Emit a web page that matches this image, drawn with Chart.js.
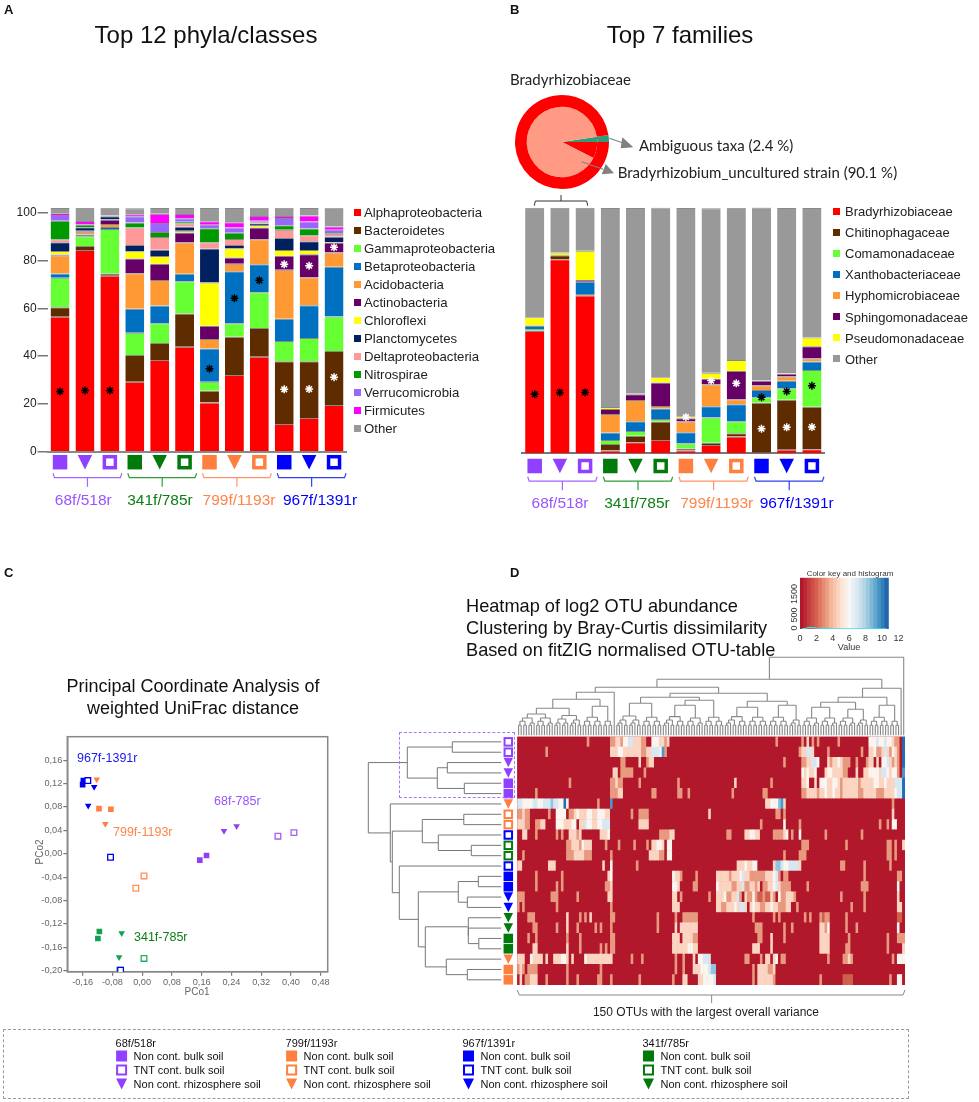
<!DOCTYPE html>
<html>
<head>
<meta charset="utf-8">
<title>Primer comparison</title>
<script src="https://cdn.jsdelivr.net/npm/chart.js@4"></script>
<style>
  body { margin: 0; background: #fff; }
  #page { position: relative; width: 979px; height: 1102px; overflow: hidden; font-family: "Liberation Sans", Arial, sans-serif; color: #111; }
  #page canvas { position: absolute; }
  .txt { position: absolute; white-space: pre; line-height: 1; }
</style>
</head>
<body>
<div id="page"></div>
<script>
// panel A: share of reads per primer pair/soil, %
const phyla = ['Alphaproteobacteria', 'Bacteroidetes', 'Gammaproteobacteria', 'Betaproteobacteria', 'Acidobacteria', 'Actinobacteria', 'Chloroflexi', 'Planctomycetes', 'Deltaproteobacteria', 'Nitrospirae', 'Verrucomicrobia', 'Firmicutes', 'Other'];
const phylaColors = ['#ff0000', '#5f2c00', '#66ff33', '#0070c0', '#ff9933', '#660066', '#ffff00', '#002060', '#ff9999', '#009900', '#9966ff', '#ff00ff', '#999999'];
const alpha = [56.5, 84.4, 73.6, 29.3, 38.4, 43.9, 20.6, 32.1, 39.7, 11.6, 14.1, 19.5];
const bacteroidetes = [3.9, 1.7, 1.0, 11.2, 7.1, 13.9, 4.9, 16.0, 12.1, 26.2, 23.7, 22.6];
const gamma = [12.4, 4.0, 18.6, 9.3, 8.2, 13.5, 3.8, 5.6, 14.9, 8.5, 9.8, 14.5];
const beta = [1.8, 0.8, 0.8, 10.0, 7.5, 3.2, 13.9, 21.8, 11.7, 9.3, 13.7, 20.8];
const acido = [7.5, 1.1, 1.3, 14.9, 10.6, 13.0, 3.9, 3.1, 10.5, 20.5, 11.7, 5.9];
const actino = [0.4, 0.3, 1.7, 6.1, 6.8, 4.2, 5.6, 2.6, 4.9, 5.9, 9.6, 4.2];
const chloroflexi = [1.5, 0.1, 0.1, 3.1, 3.3, 0.7, 18.1, 3.9, 1.0, 2.4, 1.8, 0.2];
const plancto = [3.6, 1.5, 1.4, 2.6, 2.6, 1.7, 14.2, 1.4, 0.7, 5.0, 3.6, 2.2];
const delta = [1.3, 0.1, 0.1, 7.3, 5.3, 1.4, 2.6, 2.5, 0.4, 3.5, 2.6, 1.3];
const nitro = [7.7, 0.9, 0.1, 2.1, 2.1, 0.7, 5.9, 2.6, 0.3, 1.8, 2.8, 0.3];
const verruco = [2.4, 0.4, 0.1, 2.6, 3.8, 1.5, 1.4, 2.2, 0.4, 3.1, 2.9, 1.4];
const firmicutes = [0.8, 1.2, 0.2, 0.8, 3.9, 1.7, 1.5, 2.2, 2.0, 0.8, 2.5, 1.3];
const otherA = [2.2, 5.9, 3.1, 2.6, 2.4, 2.6, 5.6, 6.0, 3.5, 3.5, 3.2, 8.1];
const starsABlack = [25.2, 25.6, 25.6, null, null, null, 34.7, 64.2, 71.7, null, null, null];
const starsAWhiteLow = [null, null, null, null, null, null, null, null, null, 26.1, 26.2, 31.2];
const starsAWhiteHigh = [null, null, null, null, null, null, null, null, null, 78.4, 77.8, 85.5];
const yTicksA = [0, 20, 40, 60, 80, 100];

// panel B
const families = ['Bradyrhizobiaceae', 'Chitinophagaceae', 'Comamonadaceae', 'Xanthobacteriaceae', 'Hyphomicrobiaceae', 'Sphingomonadaceae', 'Pseudomonadaceae', 'Other'];
const familyColors = ['#ff0000', '#5f2c00', '#66ff33', '#0070c0', '#ff9933', '#660066', '#ffff00', '#999999'];
const brady = [49.8, 79.0, 64.2, 1.1, 4.5, 5.4, 1.1, 3.4, 6.8, 0.4, 1.4, 1.6];
const chitino = [0.2, 1.6, 0.7, 2.7, 2.6, 7.5, 0.9, 0.9, 1.4, 20.2, 20.4, 17.4];
const comamonad = [0.6, 0, 0, 1.6, 2.0, 1.1, 2.0, 10.3, 4.9, 2.2, 4.7, 14.9];
const xantho = [1.3, 0, 5.0, 3.1, 3.9, 4.2, 4.6, 4.6, 6.9, 3.0, 3.0, 3.5];
const hypho = [0.2, 0, 0, 7.5, 8.7, 1.1, 4.3, 8.8, 2.0, 1.8, 1.8, 1.2];
const sphingo = [0.1, 0.1, 0.7, 2.0, 2.3, 9.5, 1.4, 2.4, 11.5, 1.9, 1.1, 5.0];
const pseudo = [3.2, 1.1, 11.9, 0.9, 0.3, 2.2, 0.8, 2.4, 4.5, 0.1, 0.1, 3.5];
const otherB = [44.6, 18.2, 17.5, 81.0, 75.6, 69.1, 84.8, 67.0, 62.0, 70.6, 67.4, 52.8];
const starsBBlack = [24.0, 24.8, 24.8, null, null, null, null, null, null, 22.8, 25.2, 27.5];
const starsBWhite = [null, null, null, null, null, null, 14.7, 29.6, 28.5, 10.0, 10.6, 10.7];

// pie above panel B
const pieOuter = [2.4, 97.6];
const pieInner = [2.4, 7.5, 90.1];

// primer groups, shared by the bars, the heatmap rows and the legend
const groupNames = ['68f/518r', '341f/785r', '799f/1193r', '967f/1391r'];
const groupColors = ['#9040ff', '#007a0a', '#ff7f3f', '#0000ff'];
const groupTextColors = ['#9955ff', '#0c7f14', '#ff8548', '#0000ff'];
const bracketColors = ['#a466ff', '#2e9e3c', '#ff9566', '#3040f0'];
const barShapes = ['square', 'triangle', 'hollow'];
const barLabels = ['P1', 'P2', 'P3', 'G1', 'G2', 'G3', 'O1', 'O2', 'O3', 'B1', 'B2', 'B3'];

// panel C: PCo1, PCo2
const purpleBulk = [[0.173, -0.003], [0.155, -0.011]];
const purpleRhizo = [[0.22, 0.039], [0.254, 0.047]];
const purpleTnt = [[0.365, 0.030], [0.408, 0.036]];
const blueBulk = [[-0.158, 0.125], [-0.16, 0.118]];
const blueRhizo = [[-0.129, 0.114], [-0.145, 0.082]];
const blueTnt = [[-0.146, 0.125], [-0.085, -0.006], [-0.058, -0.199]];
const orangeBulk = [[-0.116, 0.077], [-0.084, 0.076]];
const orangeRhizo = [[-0.122, 0.127], [-0.099, 0.051]];
const orangeTnt = [[0.005, -0.038], [-0.017, -0.059]];
const greenBulk = [[-0.115, -0.133], [-0.119, -0.145]];
const greenRhizo = [[-0.055, -0.136], [-0.062, -0.177]];
const greenTnt = [[0.005, -0.179], [-0.06, -0.199]];
const pcoXTicks = [-0.16, -0.08, 0, 0.08, 0.16, 0.24, 0.32, 0.40, 0.48];
const pcoYTicks = [-0.20, -0.16, -0.12, -0.08, -0.04, 0, 0.04, 0.08, 0.12, 0.16];

// panel D: heatmap rows as [first column, length, colour level]; everything else is level 0
const heatColors = ['#b2182b', '#cf5f4f', '#e89a80', '#fbd5c2', '#fbf5f0', '#d8e8f2', '#90c4e0', '#4a98cc', '#1f6fb5'];
const heatRuns = [
  [[27,1,2],[36,2,2],[38,2,3],[40,1,2],[41,2,4],[43,2,5],[45,3,3],[48,2,2],[52,3,4],[55,2,3],[57,1,2],[58,1,3],[100,1,2],[110,1,2],[112,1,3],[114,1,2],[116,1,2],[124,1,2],[136,3,4],[139,1,5],[140,2,4],[142,1,5],[143,2,4],[145,1,3],[146,2,2],[149,1,8]],
  [[11,1,2],[36,3,3],[39,2,4],[41,2,3],[43,2,3],[45,3,3],[48,2,2],[50,2,3],[52,3,5],[55,1,4],[56,1,7],[57,1,2],[109,1,2],[110,2,3],[112,2,5],[114,1,3],[120,1,2],[133,1,2],[136,2,3],[138,1,4],[139,2,2],[141,1,3],[142,1,5],[143,1,3],[144,1,2],[145,1,4],[146,1,3],[147,1,2],[149,1,8]],
  [[40,2,2],[47,1,3],[50,1,2],[51,2,3],[103,1,2],[110,2,2],[112,2,3],[114,2,5],[116,1,4],[120,1,3],[121,1,2],[122,2,3],[124,1,4],[125,1,3],[126,2,2],[128,1,2],[131,1,2],[135,1,2],[136,2,3],[139,1,3],[141,2,4],[143,1,5],[144,1,3],[145,1,2],[146,1,3],[147,1,2],[149,1,8]],
  [[37,2,3],[40,5,2],[49,1,2],[110,1,4],[111,1,3],[112,1,4],[113,2,3],[115,1,4],[119,1,3],[120,2,4],[122,2,3],[124,2,3],[126,1,2],[127,1,2],[131,1,3],[134,2,3],[136,4,4],[140,1,3],[141,2,5],[143,1,4],[144,1,3],[145,2,4],[147,1,2],[149,1,7]],
  [[20,1,2],[36,2,2],[38,1,3],[39,2,2],[47,1,2],[62,1,2],[84,1,3],[98,1,2],[110,2,3],[112,1,4],[115,1,3],[117,2,4],[119,1,4],[120,2,3],[122,2,4],[124,1,3],[125,1,2],[126,2,3],[128,2,3],[130,2,3],[132,1,2],[133,1,3],[134,2,3],[136,2,3],[138,2,4],[140,2,3],[142,1,4],[143,2,3],[145,1,3],[146,1,5],[147,2,5],[149,1,8]],
  [[7,1,2],[36,3,2],[39,2,3],[52,2,2],[62,2,2],[66,1,2],[83,1,2],[95,2,2],[110,2,2],[112,4,3],[116,1,2],[117,2,3],[119,1,4],[120,2,3],[122,1,4],[123,2,3],[125,1,2],[126,6,3],[132,2,2],[134,5,3],[139,3,2],[142,4,3],[146,1,4],[147,2,5],[149,1,8]],
  [[0,2,5],[2,4,4],[6,2,5],[8,2,4],[10,1,5],[11,2,5],[13,1,6],[14,2,5],[16,2,4],[18,1,8],[19,1,4],[31,1,2],[36,1,7],[96,2,3],[98,3,4],[101,1,6],[102,1,7],[103,1,3],[145,1,2]],
  [[0,2,2],[2,1,3],[3,2,2],[12,1,2],[15,4,4],[20,2,2],[22,1,3],[23,1,4],[24,2,3],[26,1,3],[27,2,4],[29,2,3],[31,2,4],[33,1,4],[34,2,3],[44,1,2],[47,4,2],[74,1,3],[100,2,2],[103,1,2],[145,1,3]],
  [[0,3,3],[3,2,2],[7,2,2],[9,2,3],[15,3,4],[18,3,3],[21,2,4],[24,2,3],[26,1,5],[27,2,4],[29,2,3],[31,2,4],[33,3,5],[47,4,3],[94,1,2],[103,1,4],[109,1,2],[140,1,2],[143,1,2],[145,2,4]],
  [[2,2,3],[7,1,2],[15,1,2],[17,1,2],[20,3,3],[23,1,2],[24,1,3],[32,3,3],[35,1,4],[55,4,2],[59,2,3],[81,2,2],[88,2,3],[90,2,4],[92,2,3],[99,4,2],[103,1,3],[104,1,4],[106,1,2],[109,1,4],[119,1,2],[133,1,2]],
  [[19,2,2],[21,1,3],[22,2,3],[24,1,2],[25,1,4],[26,3,3],[34,1,2],[39,1,2],[45,1,2],[50,1,2],[52,2,3],[54,2,4],[56,1,3],[58,2,4],[110,3,2],[127,1,2],[143,2,2],[146,1,2],[149,1,3]],
  [[2,1,2],[19,3,2],[22,4,3],[26,3,2],[36,1,2],[51,4,3],[55,2,2],[58,2,4],[103,1,2],[109,3,2],[143,2,2],[146,1,2]],
  [[0,2,3],[12,3,3],[33,1,3],[36,1,4],[46,1,2],[85,3,3],[88,1,4],[89,2,3],[91,2,4],[99,1,3],[100,2,6],[102,1,5],[103,2,4],[105,2,5],[107,2,5],[109,1,3],[125,2,2],[134,1,2],[144,1,2]],
  [[7,1,2],[17,1,2],[35,1,3],[36,1,4],[60,1,4],[61,2,3],[63,1,2],[69,1,2],[77,5,3],[82,1,2],[83,3,3],[86,1,4],[87,1,5],[88,2,3],[90,6,2],[96,3,3],[99,1,4],[100,1,5],[101,1,2],[103,2,2],[134,1,2],[147,2,2]],
  [[7,1,2],[15,1,2],[17,1,2],[34,2,2],[36,1,3],[60,2,4],[62,1,3],[68,2,2],[77,1,4],[78,5,3],[83,2,2],[85,2,3],[87,1,5],[88,2,2],[90,2,3],[92,1,2],[93,1,3],[95,2,2],[97,2,3],[99,1,4],[100,1,5],[101,1,3],[102,4,2],[112,1,2],[133,3,2],[147,1,4]],
  [[0,3,2],[13,3,2],[23,1,2],[35,2,3],[60,2,3],[63,1,2],[74,1,2],[77,3,3],[80,1,4],[81,2,2],[83,2,3],[85,1,5],[86,1,2],[88,1,3],[89,2,2],[91,1,4],[92,1,2],[93,2,1],[95,1,2],[96,2,1],[98,1,3],[99,1,2],[101,1,4],[102,2,2],[104,3,3],[107,1,2],[125,1,2],[134,1,2],[147,1,3]],
  [[0,1,2],[2,1,2],[15,1,2],[36,1,2],[60,3,3],[77,2,3],[79,2,2],[81,3,3],[84,1,4],[85,1,3],[86,2,5],[88,1,3],[90,1,3],[91,1,4],[92,2,3],[94,2,2],[96,2,3],[98,1,4],[99,2,3],[101,3,2],[104,2,3],[108,1,2],[129,1,2],[134,1,2],[147,2,3]],
  [[4,3,2],[19,1,3],[24,1,2],[26,1,2],[28,1,3],[36,2,2],[54,1,2],[61,1,2],[64,6,2],[91,1,2],[99,1,2],[101,1,2],[111,1,2],[113,1,2],[117,1,2],[118,1,1],[119,2,2],[127,1,2],[147,2,1]],
  [[6,2,2],[15,1,2],[19,1,3],[23,1,2],[30,1,2],[32,1,2],[36,1,2],[54,1,2],[61,1,3],[63,7,3],[92,3,2],[103,1,2],[106,1,2],[117,2,3],[119,1,2],[120,1,4],[127,1,2],[131,1,2],[147,1,4]],
  [[4,1,2],[7,1,2],[19,1,2],[24,1,2],[36,2,2],[60,3,3],[64,4,3],[68,2,2],[93,2,2],[98,1,3],[103,1,2],[117,4,3],[128,1,2],[143,1,2],[147,3,2]],
  [[6,2,3],[19,1,3],[24,1,2],[32,1,2],[34,1,2],[36,2,2],[60,6,3],[66,2,4],[68,2,3],[91,3,3],[98,1,3],[117,4,3],[127,2,2],[143,1,2],[149,1,3]],
  [[0,3,3],[5,1,4],[6,4,3],[11,1,3],[14,3,3],[17,2,4],[19,1,3],[21,1,3],[26,1,4],[27,10,3],[44,1,2],[48,1,2],[61,1,2],[64,1,2],[68,1,3],[70,2,4],[72,1,5],[73,2,5],[88,2,2],[94,1,2],[96,2,3],[99,1,3],[100,1,4],[102,2,2],[120,1,2],[126,2,2],[128,1,3],[129,1,2],[145,1,2],[147,3,4]],
  [[0,1,2],[1,1,3],[2,1,2],[4,4,2],[19,1,2],[32,1,2],[61,1,2],[64,1,2],[68,3,3],[71,1,4],[72,2,4],[74,1,5],[75,2,6],[91,1,2],[93,4,3],[97,2,2],[99,1,3]],
  [[1,1,3],[3,2,2],[5,3,3],[11,1,2],[19,1,2],[23,1,2],[31,2,2],[36,1,2],[47,1,2],[60,1,2],[64,2,3],[70,2,3],[72,2,4],[74,2,4],[76,1,5],[91,1,2],[93,6,3],[99,1,2],[117,1,2],[126,4,1],[144,1,2],[147,2,4]]
];
const rowGroups = [0, 0, 0, 0, 0, 0, 2, 2, 2, 3, 1, 1, 3, 3, 3, 3, 3, 1, 1, 1, 1, 2, 2, 2];
const rowShapes = ['hollow', 'hollow', 'triangle', 'triangle', 'square', 'square', 'triangle', 'hollow', 'hollow', 'hollow', 'hollow', 'hollow', 'hollow', 'square', 'square', 'triangle', 'triangle', 'triangle', 'triangle', 'square', 'square', 'triangle', 'square', 'square'];
// dendrograms: [height, child, child]; a plain number is that many leaves side by side
const colTree = [78, [56, [48, [43, [36, [27, 14, 11], [29, 8, 4]], 1], [42, [38, [32, 10, 8], [35, [30, 9, 7], 8]], [34, [28, 9, 8], [30, 8, 5]]]], [47, [38, [33, [28, 7, 7], [26, 7, 5]], [30, 8, 4]], 1]], 1];
const rowTree = [133, [94, [49, 1, 1], [64, [54, 1, 1], [37, 1, 1]]], [111, 1, [109, [79, [37.5, 1, 1], [63, 1, [30, 1, 1]]], [102, 1, [83, [43, [23, 1, 1], [34, 1, 1]], [76, [33, 1, [33, 1, [22.5, 1, 1]]], [55, 1, [34, 1, 1]]]]]]]];

// colour key
const keyColors = ['#b2182b', '#bb2a33', '#c43c3c', '#cd4e46', '#d6604d', '#de7660', '#e58c72', '#ec9f85', '#f4b59c', '#f7c5ad', '#fad5c1', '#fce4d6', '#f9ede6', '#f7f7f7', '#e8f0f4', '#dbe9f1', '#c9e0ec', '#b3d5e6', '#9bc9e0', '#7fb8d7', '#62a7cd', '#4694c3', '#3380b9', '#2166ac'];
const keyBins = [0.225, 0.675, 1.125, 1.575, 2.025, 2.475, 2.925, 3.375, 3.825, 4.275, 4.725, 5.175, 5.625, 6.075, 6.525, 6.975, 7.425, 7.875, 8.325, 8.775, 9.225, 9.675, 10.125, 10.575];
const keyHist = [10, 25, 60, 55, 40, 30, 22, 15, 12, 8, 8, 5, 5, 5, 5, 5, 5, 5, 5, 5, 5, 5, 5, 5];
const keyTicks = [0, 2, 4, 6, 8, 10, 12];

// bottom legend
const legendOrder = [0, 2, 3, 1];
const legendRows = ['Non cont. bulk soil', 'TNT cont. bulk soil', 'Non cont. rhizosphere soil'];

Chart.defaults.animation = false;
Chart.defaults.font.family = '"Liberation Sans", Arial, sans-serif';
Chart.defaults.plugins.legend.display = false;
Chart.defaults.plugins.tooltip.enabled = false;
Chart.defaults.devicePixelRatio = 1;

const page = document.getElementById('page');

function addCanvas(x, y, w, h) {
  const c = document.createElement('canvas');
  c.width = w; c.height = h;
  c.style.left = x + 'px'; c.style.top = y + 'px';
  c.style.width = w + 'px'; c.style.height = h + 'px';
  page.appendChild(c);
  return c;
}

// align: 0 = x is the left edge, .5 = x is the middle
function label(text, x, y, size, color, align, extra) {
  const d = document.createElement('div');
  d.className = 'txt';
  d.textContent = text;
  d.style.left = x + 'px'; d.style.top = y + 'px';
  d.style.fontSize = size + 'px';
  d.style.color = color || '#111';
  d.style.transform = 'translate(' + (-(align || 0) * 100) + '%,-50%)' + (extra || '');
  page.appendChild(d);
  return d;
}

function drawMark(ctx, shape, cx, cy, s, color, lw) {
  ctx.fillStyle = color;
  ctx.strokeStyle = color;
  if (shape === 'square') {
    ctx.fillRect(cx - s / 2, cy - s / 2, s, s);
  } else if (shape === 'hollow') {
    ctx.lineWidth = lw;
    ctx.strokeRect(cx - s / 2 + lw / 2, cy - s / 2 + lw / 2, s - lw, s - lw);
  } else {
    ctx.beginPath();
    ctx.moveTo(cx - s / 2, cy - s / 2);
    ctx.lineTo(cx + s / 2, cy - s / 2);
    ctx.lineTo(cx, cy + s / 2);
    ctx.closePath();
    ctx.fill();
  }
}

// marks and coloured brackets under the stacked bars
function groupAxis(markDy, bracketDy) {
  return {
    id: 'groupAxis',
    afterDraw(chart) {
      const ctx = chart.ctx, x = chart.scales.x, base = chart.chartArea.bottom;
      ctx.save();
      barLabels.forEach((_, i) => {
        const g = Math.floor(i / 3);
        drawMark(ctx, barShapes[i % 3], x.getPixelForValue(i), base + markDy, 14.5, groupColors[g], 3.5);
      });
      groupNames.forEach((_, g) => {
        const a = x.getPixelForValue(g * 3) - 7, b = x.getPixelForValue(g * 3 + 2) + 12;
        const top = base + bracketDy;
        ctx.strokeStyle = bracketColors[g];
        ctx.lineWidth = 1.2;
        ctx.beginPath();
        ctx.moveTo(a, top); ctx.lineTo(a + 1.5, top + 4.5); ctx.lineTo(b - 1.5, top + 4.5); ctx.lineTo(b, top);
        ctx.moveTo((a + b) / 2, top + 4.5); ctx.lineTo((a + b) / 2, top + 13.5);
        ctx.stroke();
      });
      ctx.restore();
    }
  };
}

function starSet(values, color, name) {
  return { type: 'line', stack: name, order: -1, data: values, showLine: false, pointStyle: 'star', pointRadius: 4, pointBorderColor: color, pointBorderWidth: 1.5 };
}

function barSets(series, colors) {
  return series.map((values, i) => ({
    label: i, data: values, backgroundColor: colors[i], borderColor: 'rgba(20,20,20,.5)',
    borderWidth: { top: 1, bottom: 0, left: 0, right: 0 }, barPercentage: 0.76, categoryPercentage: 1
  }));
}

// ---- panel A
new Chart(addCanvas(0, 190, 352, 305), {
  type: 'bar',
  data: {
    labels: barLabels,
    datasets: barSets([alpha, bacteroidetes, gamma, beta, acido, actino, chloroflexi, plancto, delta, nitro, verruco, firmicutes, otherA], phylaColors)
      .concat([starSet(starsABlack, '#000', 'a'), starSet(starsAWhiteLow, '#fff', 'b'), starSet(starsAWhiteHigh, '#fff', 'c')])
  },
  options: {
    responsive: false,
    layout: { padding: { top: 17.9, bottom: 43.3, right: 2.6 } },
    scales: {
      x: { stacked: true, ticks: { display: false }, grid: { display: false }, border: { color: '#888', width: 2 }, afterFit: s => { s.height = 0; } },
      y: {
        stacked: true, min: 0, max: 102,
        afterBuildTicks: s => { s.ticks = yTicksA.map(v => ({ value: v })); },
        afterFit: s => { s.width = 47.6; },
        ticks: { color: '#222', font: { size: 12 }, padding: 1 },
        grid: { drawOnChartArea: false, tickLength: 10, color: '#777', lineWidth: 1.5 },
        border: { display: false }
      }
    }
  },
  plugins: [groupAxis(10.5, 21.5)]
});

// ---- panel B
new Chart(addCanvas(500, 190, 330, 310), {
  type: 'bar',
  data: {
    labels: barLabels,
    datasets: barSets([brady, chitino, comamonad, xantho, hypho, sphingo, pseudo, otherB], familyColors)
      .concat([starSet(starsBBlack, '#000', 'a'), starSet(starsBWhite, '#fff', 'b')])
  },
  options: {
    responsive: false,
    layout: { padding: { top: 17.7, bottom: 46.7, left: 22.1, right: 5 } },
    scales: {
      x: { stacked: true, ticks: { display: false }, grid: { display: false }, border: { color: '#777', width: 2 }, afterFit: s => { s.height = 0; } },
      y: { stacked: true, min: 0, max: 100, display: false }
    }
  },
  plugins: [groupAxis(12.7, 23.4)]
});

// ---- pie
new Chart(addCanvas(512, 92, 100, 100), {
  type: 'pie',
  data: {
    labels: ['Ambiguous taxa', 'Bradyrhizobium_uncultured strain', 'Rest'],
    datasets: [
      { data: pieOuter, backgroundColor: ['#2e9e78', '#ff0000'], borderWidth: 0, weight: 11.7 },
      { data: pieInner, backgroundColor: ['#2e9e78', '#ff0000', '#ff9a85'], borderWidth: 0, weight: 35 }
    ]
  },
  options: { responsive: false, rotation: 81.4, layout: { padding: 3 } }
});

// ---- panel C
function pcoSet(points, color, shape) {
  return {
    data: points.map(p => ({ x: p[0], y: p[1] })),
    pointStyle: shape === 'triangle' ? 'triangle' : 'rect',
    rotation: shape === 'triangle' ? 180 : 0,
    pointRadius: shape === 'triangle' ? 3.8 : 4,
    backgroundColor: shape === 'hollow' ? '#fff' : color,
    borderColor: color,
    borderWidth: shape === 'hollow' ? 1.3 : 0
  };
}
const fmtComma = v => v.toFixed(2).replace('.', ',');
new Chart(addCanvas(0, 725, 340, 275), {
  type: 'scatter',
  data: {
    datasets: [
      pcoSet(blueTnt, '#0000f0', 'hollow'), pcoSet(blueBulk, '#0000f0', 'square'), pcoSet(blueRhizo, '#0000f0', 'triangle'),
      pcoSet(purpleBulk, '#9040f0', 'square'), pcoSet(purpleRhizo, '#9040f0', 'triangle'), pcoSet(purpleTnt, '#a060f5', 'hollow'),
      pcoSet(orangeBulk, '#ff7f3f', 'square'), pcoSet(orangeRhizo, '#ff7f3f', 'triangle'), pcoSet(orangeTnt, '#ff8f55', 'hollow'),
      pcoSet(greenBulk, '#10a050', 'square'), pcoSet(greenRhizo, '#10a050', 'triangle'), pcoSet(greenTnt, '#20b060', 'hollow')
    ]
  },
  options: {
    responsive: false,
    layout: { padding: { top: 11.7, right: 12.3 } },
    scales: {
      x: {
        min: -0.2012, max: 0.4988,
        afterBuildTicks: s => { s.ticks = pcoXTicks.map(v => ({ value: v })); },
        afterFit: s => { s.height = 28.3; },
        ticks: { color: '#666', font: { size: 9.2 }, padding: 1, maxRotation: 0, callback: fmtComma },
        grid: { drawOnChartArea: false, tickLength: 4, color: '#777', lineWidth: 1.2 },
        border: { color: '#888', width: 1.5 }
      },
      y: {
        min: -0.2017, max: 0.2,
        afterBuildTicks: s => { s.ticks = pcoYTicks.map(v => ({ value: v })); },
        afterFit: s => { s.width = 67.3; },
        ticks: { color: '#666', font: { size: 9.2 }, padding: 1, callback: fmtComma },
        grid: { drawOnChartArea: false, tickLength: 4, color: '#777', lineWidth: 1.2 },
        border: { color: '#888', width: 1.5 }
      }
    }
  },
  plugins: [{
    id: 'frame',
    beforeDatasetsDraw(chart) {
      const a = chart.chartArea, ctx = chart.ctx;
      ctx.save();
      ctx.strokeStyle = '#888';
      ctx.lineWidth = 1.5;
      ctx.strokeRect(a.left, a.top, a.right - a.left, a.bottom - a.top);
      ctx.restore();
    }
  }]
});

// ---- panel D: heatmap and both dendrograms
function walkTree(node, nextLeaf, seg) {
  if (typeof node === 'number') {
    if (node === 1) return { pos: nextLeaf(), h: 0 };
    const left = Math.ceil(node / 2);
    const kids = [walkTree(left, nextLeaf, seg), walkTree(node - left, nextLeaf, seg)];
    return joinKids(kids, 6 + 4 * Math.log2(node), seg);
  }
  const kids = node.slice(1).map(k => walkTree(k, nextLeaf, seg));
  return joinKids(kids, node[0], seg);
}
function joinKids(kids, h, seg) {
  kids.forEach(k => seg(k.pos, k.h, k.pos, h));
  const a = kids[0].pos, b = kids[kids.length - 1].pos;
  seg(a, h, b, h);
  return { pos: (a + b) / 2, h: h };
}

function levelsOfRow(runs) {
  const cells = new Array(150).fill(0);
  runs.forEach(r => { for (let c = r[0]; c < r[0] + r[1]; c++) cells[c] = r[2]; });
  return cells;
}
const otuLabels = [];
for (let c = 0; c < 150; c++) otuLabels.push('OTU' + (c + 1));

new Chart(addCanvas(360, 650, 550, 355), {
  type: 'bar',
  data: {
    labels: otuLabels,
    datasets: heatRuns.slice().reverse().map(runs => ({
      data: otuLabels.map(() => 1),
      backgroundColor: levelsOfRow(runs).map(l => heatColors[l]),
      borderWidth: 0, barPercentage: 1, categoryPercentage: 1
    }))
  },
  options: {
    responsive: false,
    layout: { padding: { left: 157.3, right: 5, top: 86.7, bottom: 20 } },
    scales: {
      x: { stacked: true, display: false },
      y: { stacked: true, min: 0, max: 24, display: false }
    }
  },
  plugins: [{
    id: 'dendro',
    beforeDatasetsDraw(chart) {
      const a = chart.chartArea, ctx = chart.ctx;
      ctx.fillStyle = heatColors[0];
      ctx.fillRect(a.left, a.top, a.right - a.left, a.bottom - a.top);
    },
    afterDraw(chart) {
      const a = chart.chartArea, ctx = chart.ctx, xs = chart.scales.x, ys = chart.scales.y;
      ctx.save();
      // column tree
      let col = 0;
      ctx.strokeStyle = '#888';
      ctx.lineWidth = 1.1;
      ctx.beginPath();
      walkTree(colTree, () => col++, (p1, h1, p2, h2) => {
        ctx.moveTo(xs.getPixelForValue(p1), a.top - 1.4 - h1);
        ctx.lineTo(xs.getPixelForValue(p2), a.top - 1.4 - h2);
      });
      ctx.stroke();
      // row tree
      const rowEdge = a.left - 16;
      const rowY = r => ys.getPixelForValue(24 - r - 0.5);
      let row = 0;
      ctx.strokeStyle = '#777';
      ctx.lineWidth = 1;
      ctx.beginPath();
      walkTree(rowTree, () => row++, (p1, h1, p2, h2) => {
        ctx.moveTo(rowEdge - h1, rowY(p1));
        ctx.lineTo(rowEdge - h2, rowY(p2));
      });
      ctx.stroke();
      // row marks
      rowGroups.forEach((g, r) => {
        drawMark(ctx, rowShapes[r], a.left - 9, rowY(r), 9.5, groupColors[g], 2);
      });
      // bracket under the heatmap
      const mid = (a.left + a.right) / 2 + 0.5;
      ctx.strokeStyle = '#888';
      ctx.lineWidth = 1;
      ctx.beginPath();
      ctx.moveTo(a.left, a.bottom + 5); ctx.lineTo(a.left + 2, a.bottom + 10); ctx.lineTo(a.right - 2, a.bottom + 10); ctx.lineTo(a.right, a.bottom + 5);
      ctx.moveTo(mid, a.bottom + 10); ctx.lineTo(mid, a.bottom + 18);
      ctx.stroke();
      ctx.restore();
    }
  }]
});

// ---- colour key
new Chart(addCanvas(785, 572, 120, 70), {
  type: 'bar',
  data: {
    labels: keyBins,
    datasets: [
      { type: 'line', order: -1, data: keyBins.map((b, i) => ({ x: b, y: keyHist[i] })), borderColor: '#40e0e8', borderWidth: 1.2, pointRadius: 0 },
      { data: keyBins.map(b => ({ x: b, y: 2000 })), backgroundColor: keyColors, borderWidth: 0, barPercentage: 1, categoryPercentage: 1 }
    ]
  },
  options: {
    responsive: false,
    layout: { padding: { left: 15, right: 6.7, top: 5.7, bottom: 13 } },
    scales: {
      x: {
        type: 'linear', min: 0, max: 12, offset: false,
        afterBuildTicks: s => { s.ticks = keyTicks.map(v => ({ value: v })); },
        afterFit: s => { s.height = 0; },
        ticks: { display: false }, grid: { display: false }, border: { display: false }
      },
      y: { min: 0, max: 2000, display: false }
    }
  }
});
keyTicks.forEach(v => label(String(v), 800 + v * 8.2, 637.7, 9, '#333', 0.5));
label('Value', 849, 646.7, 9, '#333', 0.5);
label('Color key and histogram', 850, 574, 8, '#333', 0.5);
[['0', 627.7], ['500', 615], ['1500', 594.3]].forEach(t => label(t[0], 794, t[1], 9, '#333', 0.5, ' rotate(-90deg)'));

// ---- overlay: arrows, small bracket, legend marks
const over = addCanvas(0, 0, 979, 1102);
const oc = over.getContext('2d');
oc.strokeStyle = '#808080'; oc.fillStyle = '#808080'; oc.lineWidth = 1.2;
oc.beginPath();
oc.moveTo(609.3, 138.3); oc.lineTo(623, 143);
oc.moveTo(581.7, 161.7); oc.lineTo(603, 169.3);
oc.stroke();
[[[633.3, 147.3], [620.7, 148.3], [622.3, 137.3]], [[605.7, 164], [614, 173.3], [601.7, 174.3]]].forEach(t => {
  oc.beginPath(); oc.moveTo(t[0][0], t[0][1]); oc.lineTo(t[1][0], t[1][1]); oc.lineTo(t[2][0], t[2][1]); oc.closePath(); oc.fill();
});
oc.strokeStyle = '#333'; oc.lineWidth = 1;
oc.beginPath();
oc.moveTo(534.3, 205.7); oc.lineTo(535.3, 201); oc.lineTo(586.7, 201); oc.lineTo(587.7, 205.7);
oc.moveTo(561, 201); oc.lineTo(561, 195);
oc.stroke();
const legendX = [115.6, 285.6, 462.5, 642.5];
legendOrder.forEach((g, i) => {
  const x = legendX[i];
  label(groupNames[g], x, 1043, 11, '#111');
  legendRows.forEach((name, r) => {
    const y = 1056 + r * 14;
    drawMark(oc, ['square', 'hollow', 'triangle'][r], x + 6, y, 11, groupColors[g], 2);
    label(name, x + 18, y, 11, '#111');
  });
});

// ---- text
label('A', 4, 9, 13, '#111').style.fontWeight = 'bold';
label('B', 510, 9, 13, '#111').style.fontWeight = 'bold';
label('C', 4, 572, 13, '#111').style.fontWeight = 'bold';
label('D', 510, 572, 13, '#111').style.fontWeight = 'bold';
label('Top 12 phyla/classes', 206, 35, 24, '#111', 0.5);
label('Top 7 families', 680, 35, 24, '#111', 0.5);

phyla.forEach((name, i) => {
  const y = 212.7 + i * 18;
  const box = document.createElement('div');
  box.style.cssText = 'position:absolute;left:354px;top:' + (y - 3.5) + 'px;width:7px;height:7px;background:' + phylaColors[i];
  page.appendChild(box);
  label(name, 364, y, 13.2, '#222');
});
families.forEach((name, i) => {
  const y = 211 + i * 21.1;
  const box = document.createElement('div');
  box.style.cssText = 'position:absolute;left:833px;top:' + (y - 3.5) + 'px;width:7px;height:7px;background:' + familyColors[i];
  page.appendChild(box);
  label(name, 845, y, 13, '#222');
});

[83.3, 160, 239, 320].forEach((x, g) => label(groupNames[g], x, 500, 15.5, groupTextColors[g], 0.5));
[560, 637, 716.7, 796.7].forEach((x, g) => label(groupNames[g], x, 503.3, 15.5, groupTextColors[g], 0.5));

const lato = 'Lato, sans-serif';
label('Bradyrhizobiaceae', 510, 79, 15, '#222').style.fontFamily = lato;
label('Ambiguous taxa (2.4 %)', 639, 145, 15, '#222').style.fontFamily = lato;
label('Bradyrhizobium_uncultured strain (90.1 %)', 617.7, 171.7, 15, '#222').style.fontFamily = lato;

label('Principal Coordinate Analysis of', 193, 686, 18, '#111', 0.5);
label('weighted UniFrac distance', 193, 708, 18, '#111', 0.5);
label('967f-1391r', 77, 758, 12.5, '#1a1af0');
label('68f-785r', 214, 801, 12.5, '#9955ff');
label('799f-1193r', 113, 832, 12.5, '#ff8548');
label('341f-785r', 134, 937, 12.5, '#0c7f14');
label('PCo1', 197, 992, 10, '#666', 0.5);
label('PCo2', 40, 852, 10, '#666', 0.5, ' rotate(-90deg)');

label('Heatmap of log2 OTU abundance', 466, 606, 18.2, '#111');
label('Clustering by Bray-Curtis dissimilarity', 466, 628, 18.2, '#111');
label('Based on fitZIG normalised OTU-table', 466, 650, 18.2, '#111');
label('150 OTUs with the largest overall variance', 706, 1012, 12, '#222', 0.5);

// dashed boxes
const dash = document.createElement('div');
dash.style.cssText = 'position:absolute;left:399px;top:732px;width:116px;height:66px;border:1.5px dashed #a876ff;box-sizing:border-box';
page.appendChild(dash);
const legendBox = document.createElement('div');
legendBox.style.cssText = 'position:absolute;left:3px;top:1029px;width:906px;height:70px;border:1px dashed #999;box-sizing:border-box';
page.appendChild(legendBox);
</script>
</body>
</html>
